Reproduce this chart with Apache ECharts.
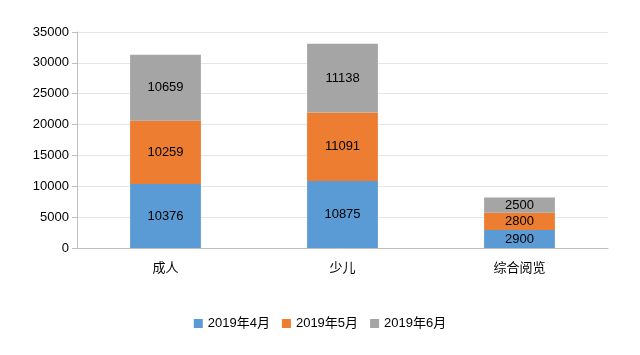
<!DOCTYPE html>
<html><head><meta charset="utf-8">
<script src="https://cdn.jsdelivr.net/npm/echarts@6/dist/echarts.min.js"></script>
<style>html,body{margin:0;padding:0;background:#fff}#c{width:640px;height:355px}</style>
</head><body><div id="c"></div>
<script>
var categories = ['成人', '少儿', '综合阅览'];
var seriesNames = ['2019年4月', '2019年5月', '2019年6月'];
var apr = [10376, 10875, 2900];
var may = [10259, 11091, 2800];
var jun = [10659, 11138, 2500];
var colors = ['#5B9BD5', '#ED7D31', '#A5A5A5'];
var font = 'Arial, "Liberation Sans", "Noto Sans CJK SC", sans-serif';
var chart = echarts.init(document.getElementById('c'));
function mk(name, data, color) {
  return {
    name: name, type: 'bar', stack: 'total', data: data, barWidth: '40%',
    itemStyle: { color: color },
    label: { show: true, position: 'inside', color: '#000', fontSize: 13, fontFamily: font }
  };
}
chart.setOption({
  animation: false,
  textStyle: { fontFamily: font },
  grid: { left: 77, right: 32, top: 32, bottom: 107 },
  legend: {
    bottom: 20, left: 'center', itemWidth: 9, itemHeight: 9, itemGap: 12, icon: 'rect',
    textStyle: { fontSize: 13, color: '#000', fontFamily: font },
    data: seriesNames
  },
  xAxis: {
    type: 'category', data: categories,
    axisLine: { lineStyle: { color: '#bfbfbf', width: 1 } },
    axisTick: { show: false },
    axisLabel: { color: '#000', fontSize: 13, margin: 14, fontFamily: font }
  },
  yAxis: {
    type: 'value', min: 0, max: 35000, interval: 5000,
    axisLine: { show: true, lineStyle: { color: '#bfbfbf', width: 1 } },
    axisTick: { show: true, length: 5, lineStyle: { color: '#bfbfbf' } },
    axisLabel: { color: '#000', fontSize: 13, margin: 8, fontFamily: font, formatter: function (v) { return String(v); } },
    splitLine: { lineStyle: { color: '#e6e6e6' } }
  },
  series: [mk(seriesNames[0], apr, colors[0]), mk(seriesNames[1], may, colors[1]), mk(seriesNames[2], jun, colors[2])]
});
</script></body></html>
